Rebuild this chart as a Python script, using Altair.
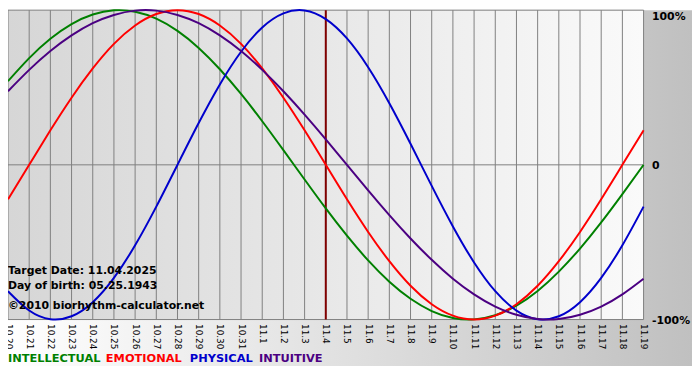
import altair as alt
import pandas as pd

# ---- data ----
days = ["10.20", "10.21", "10.22", "10.23", "10.24", "10.25", "10.26", "10.27",
        "10.28", "10.29", "10.30", "10.31", "11.1", "11.2", "11.3", "11.4",
        "11.5", "11.6", "11.7", "11.8", "11.9", "11.10", "11.11", "11.12",
        "11.13", "11.14", "11.15", "11.16", "11.17", "11.18", "11.19"]

physical = [-0.817, -0.942, -0.998, -0.979, -0.888, -0.731, -0.520, -0.270, 0.0,
            0.270, 0.520, 0.731, 0.888, 0.979, 0.998, 0.942, 0.817, 0.631, 0.398,
            0.136, -0.136, -0.398, -0.631, -0.817, -0.942, -0.998, -0.979, -0.888,
            -0.731, -0.520, -0.270]
emotional = [-0.223, 0.0, 0.223, 0.434, 0.623, 0.782, 0.901, 0.975, 1.0, 0.975,
             0.901, 0.782, 0.623, 0.434, 0.223, 0.0, -0.223, -0.434, -0.623, -0.782,
             -0.901, -0.975, -1.0, -0.975, -0.901, -0.782, -0.623, -0.434, -0.223,
             0.0, 0.223]
intellectual = [0.541, 0.690, 0.815, 0.910, 0.972, 0.999, 0.990, 0.945, 0.866,
                0.756, 0.618, 0.458, 0.282, 0.095, -0.095, -0.282, -0.458, -0.618,
                -0.756, -0.866, -0.945, -0.990, -0.999, -0.972, -0.910, -0.815,
                -0.690, -0.541, -0.372, -0.189, 0.0]
intuitive = [0.476, 0.614, 0.736, 0.837, 0.916, 0.969, 0.997, 0.997, 0.969, 0.916,
             0.837, 0.736, 0.614, 0.476, 0.325, 0.165, 0.0, -0.165, -0.325, -0.476,
             -0.614, -0.736, -0.837, -0.916, -0.969, -0.997, -0.997, -0.969, -0.916,
             -0.837, -0.736]

series_names = ["INTELLECTUAL", "EMOTIONAL", "PHYSICAL", "INTUITIVE"]
series_colors = ["#008000", "#ff0000", "#0000cc", "#4b0082"]
target_day = "11.4"
info_lines = ["Target Date: 11.04.2025", "Day of birth: 05.25.1943",
              "\u00a92010 biorhythm-calculator.net"]
y_ticks = [-1, 0, 1]
y_tick_labels = ["-100%", "0", "100%"]

# ---- layout ----
W, H = 643, 313
PAD_R, PAD_B = 49, 59
FONT = "DejaVu Sans"

rows = []
for name, vals in zip(series_names, [intellectual, emotional, physical, intuitive]):
    for d, v in zip(days, vals):
        rows.append({"day": d, "value": v, "series": name})
df = pd.DataFrame(rows)

xscale = alt.Scale(type="point", padding=0, domain=days)
yscale = alt.Scale(domain=[-1, 1], nice=False, zero=False)

label_expr = "''"
for v, lab in zip(y_ticks, y_tick_labels):
    label_expr = f"datum.value == {v} ? '{lab}' : " + label_expr

x_axis = alt.Axis(title=None, labelAngle=90, labelAlign="left",
                  labelBaseline="middle", labelPadding=4, ticks=False,
                  domain=False, grid=False, labelFont=FONT,
                  labelFontSize=9, labelColor="#000000",
                  labelOverlap=False, zindex=1)
y_axis = alt.Axis(orient="right", values=y_ticks, labelExpr=label_expr,
                  title=None, ticks=False, domain=False, grid=False,
                  labelPadding=8, labelFont=FONT, labelFontWeight="bold",
                  labelFontSize=11, labelColor="#000000", labelAlign="left",
                  labelOffset={"condition": {"test": f"datum.value == {max(y_ticks)}",
                                             "value": 6}, "value": 1},
                  zindex=1)


def xenc():
    return alt.X("day:O", scale=xscale, sort=days, axis=x_axis)


def yenc():
    return alt.Y("value:Q", scale=yscale, axis=y_axis)


one = alt.Data(values=[{}])

outer_bg = alt.Chart(one).mark_rect(
    fill=alt.LinearGradient(
        gradient="linear",
        stops=[alt.GradientStop(offset=0, color="#ffffff"),
               alt.GradientStop(offset=1, color="#c0c0c0")],
        x1=0, x2=1, y1=0, y2=0),
    strokeWidth=0,
).encode(x=alt.value(0), x2=alt.value(W + PAD_R), y=alt.value(0), y2=alt.value(360))

plot_bg = alt.Chart(one).mark_rect(
    fill=alt.LinearGradient(
        gradient="linear",
        stops=[alt.GradientStop(offset=0, color="#d6d6d6"),
               alt.GradientStop(offset=1, color="#fafafa")],
        x1=0, x2=1, y1=0, y2=0),
    strokeWidth=0,
).encode(x=alt.value(0), x2=alt.value(W), y=alt.value(0), y2=alt.value(H))

vgrid = alt.Chart(pd.DataFrame({"day": days})).mark_rule(
    color="#808080", strokeWidth=1
).encode(x=xenc())

hgrid = alt.Chart(pd.DataFrame({"value": y_ticks})).mark_rule(
    color="#808080", strokeWidth=1
).encode(y=yenc())

target = alt.Chart(pd.DataFrame({"day": [target_day]})).mark_rule(
    color="#800000", strokeWidth=2
).encode(x=xenc())

lines = alt.Chart(df).mark_line(strokeWidth=2, interpolate="natural").encode(
    x=xenc(),
    y=yenc(),
    color=alt.Color("series:N", scale=alt.Scale(domain=series_names,
                                                range=series_colors), legend=None),
    detail="series:N",
)

info_y = [264, 279, 299]
info = [
    alt.Chart(one).mark_text(text=t, font=FONT, fontWeight="bold", fontSize=11,
                             align="left", baseline="middle", color="#000000")
    .encode(x=alt.value(0), y=alt.value(yy))
    for t, yy in zip(info_lines, info_y)
]

legend_x = [0, 99, 184, 254]
legend = [
    alt.Chart(one).mark_text(text=n, font=FONT, fontWeight="bold", fontSize=11.5,
                             align="left", baseline="middle", color=c)
    .encode(x=alt.value(xx), y=alt.value(353))
    for n, c, xx in zip(series_names, series_colors, legend_x)
]

chart = alt.layer(outer_bg, plot_bg, vgrid, hgrid, target, lines, *info, *legend).properties(
    width=W, height=H,
    padding={"left": 0, "top": 0, "right": PAD_R, "bottom": PAD_B},
    autosize=alt.AutoSizeParams(type="none"),
    background="#ffffff",
).configure_view(stroke="#808080", strokeWidth=1)

chart.save("out.html", embed_options={"renderer": "svg", "actions": False})
